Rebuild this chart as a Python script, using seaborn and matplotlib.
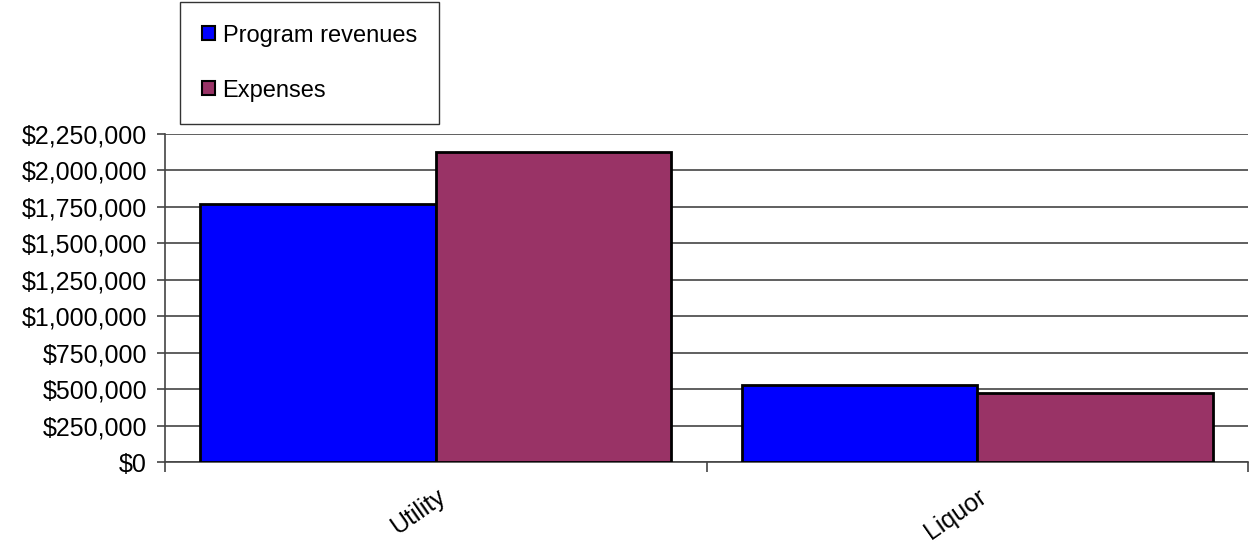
import matplotlib
matplotlib.use("Agg")
import matplotlib.pyplot as plt
import seaborn as sns
import pandas as pd
from matplotlib.patches import Patch
from matplotlib.ticker import FuncFormatter, MultipleLocator, FixedLocator

categories = ["Utility", "Liquor"]
series = ["Program revenues", "Expenses"]
program_revenues = [1773000, 528000]
expenses = [2127000, 473000]
colors = ["#0000FF", "#993366"]

df = pd.DataFrame({
    "category": categories * 2,
    "series": [series[0]] * 2 + [series[1]] * 2,
    "value": program_revenues + expenses,
})

sns.set_theme(style="white")
plt.rcParams["font.family"] = ["Liberation Sans", "DejaVu Sans"]

fig = plt.figure(figsize=(12.53, 5.44), dpi=100)
ax = fig.add_axes([0.1317, 0.1507, 0.996 - 0.1317, 0.7537 - 0.1507])

sns.barplot(data=df, x="category", y="value", hue="series", order=categories,
            hue_order=series, palette=colors, width=0.87, gap=0,
            edgecolor="black", linewidth=2, saturation=1, ax=ax, legend=False,
            zorder=3)

ax.set_xlim(-0.5, 1.5)
ax.set_ylim(0, 2250000)
ax.yaxis.set_major_locator(MultipleLocator(250000))
ax.yaxis.set_major_formatter(FuncFormatter(lambda v, p: "${:,.0f}".format(v)))
ax.grid(axis="y", color="#444444", linewidth=1.2, zorder=0)
ax.set_axisbelow(True)
for s in ["top", "right"]:
    ax.spines[s].set_visible(False)
for s in ["left", "bottom"]:
    ax.spines[s].set_color("#444444")
    ax.spines[s].set_linewidth(1.2)

ax.set_xlabel("")
ax.set_ylabel("")
ax.tick_params(axis="y", left=True, length=6, width=1.2, color="#444444",
               labelsize=18, pad=7, labelcolor="black")
ax.set_xticks([0, 1])
ax.set_xticklabels(categories, rotation=35, ha="right", rotation_mode="anchor",
                   fontsize=18, color="black")
ax.tick_params(axis="x", bottom=False, pad=10)
# boundary ticks
ax.xaxis.set_minor_locator(FixedLocator([-0.5, 0.5, 1.5]))
ax.tick_params(axis="x", which="minor", bottom=True, length=7, width=1.2,
               color="#444444")

handles = [Patch(facecolor=c, edgecolor="black", linewidth=1.5) for c in colors]
leg = fig.legend(handles, series, loc="upper left",
                 bbox_to_anchor=(0.1437, 0.996), fontsize=17, frameon=True,
                 fancybox=False, handlelength=0.55, handleheight=0.55,
                 handletextpad=0.3, labelspacing=1.4, borderpad=0.95,
                 borderaxespad=0)
for t in leg.get_texts():
    t.set_color("black")
leg.get_frame().set_edgecolor("black")
leg.get_frame().set_linewidth(1.0)

fig.savefig("out.png", dpi=100)
